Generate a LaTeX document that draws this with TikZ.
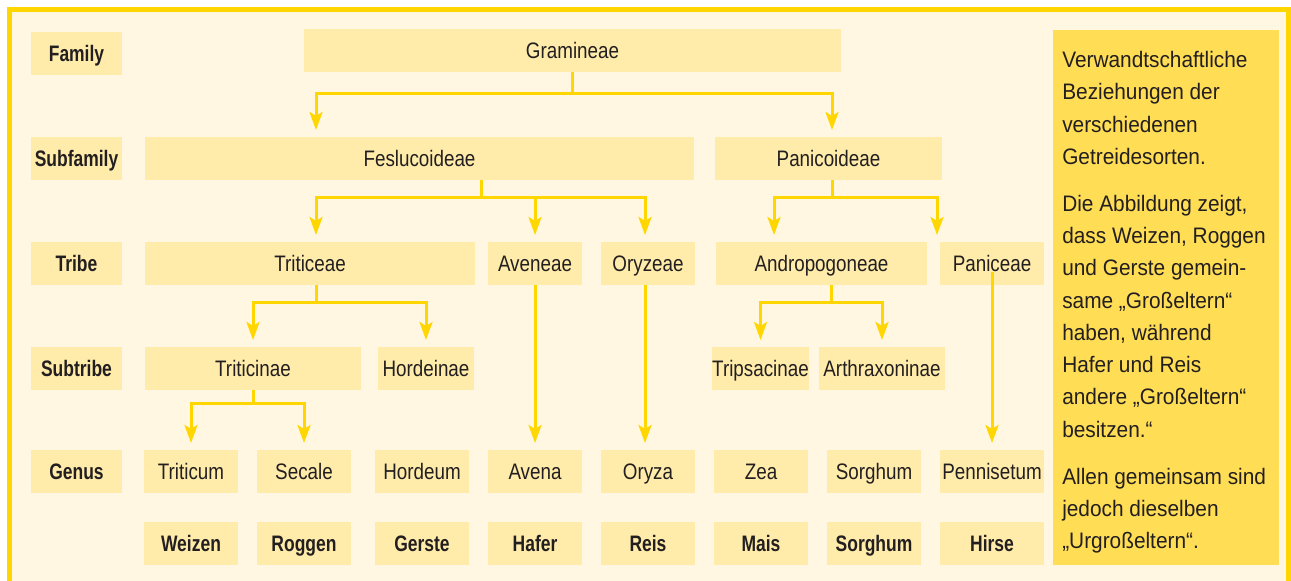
\documentclass[tikz,border=0pt]{standalone}
\usepackage{fontspec}
\setmainfont{Liberation Sans}
\newfontfamily\boxfont[FakeStretch=0.84]{Liberation Sans}
\newfontfamily\labfont[FakeStretch=0.78]{Liberation Sans}
\newfontfamily\panelfont[FakeStretch=0.93]{Liberation Sans}
\usepackage{xcolor}
\usepackage{tikz}
\usetikzlibrary{arrows.meta,positioning,calc}

\definecolor{framey}{RGB}{255,214,0}
\definecolor{paper}{RGB}{255,247,225}
\definecolor{boxy}{RGB}{255,236,170}
\definecolor{panely}{RGB}{255,221,85}
\definecolor{ink}{RGB}{35,31,32}
\newlength\pxu \setlength\pxu{0.75pt}

\begin{document}
\begin{tikzpicture}[
    x=0.75pt, y=-0.75pt,
    node distance=19\pxu,
    box/.style  = {fill=boxy, inner sep=0pt, outer sep=0pt, minimum height=43\pxu,
                   text height=13pt, text depth=1pt, text=ink,
                   font=\boxfont\fontsize{16.8}{20}\selectfont},
    gen/.style  = {box, minimum width=94\pxu},
    lab/.style  = {box, minimum width=91\pxu,
                   font=\labfont\bfseries\fontsize{16.8}{20}\selectfont},
    crop/.style = {gen, font=\labfont\bfseries\fontsize{16.8}{20}\selectfont},
    link/.style = {draw=framey, line width=2.25pt},
    arr/.style  = {link, -{Stealth[length=13.5pt, width=9.75pt, inset=3pt]},
                   shorten >=7\pxu},
]

\useasboundingbox (0,0) rectangle (1291,581);
\fill[white] (0,0) rectangle (1291,581);
\begin{scope}
  \clip (0,0) rectangle (1291,581);
  \draw[framey, line width=5\pxu, fill=paper] (9.5,10) rectangle (1288.5,600);
\end{scope}

% ============ rank labels ============
\node[lab] (lfam)  at (76.5,53.5)  {Family};
\node[lab] (lsub)  at (76.5,158.5) {Subfamily};
\node[lab] (ltri)  at (76.5,263.5) {Tribe};
\node[lab] (lsubt) at (76.5,368.5) {Subtribe};
\node[lab] (lgen)  at (76.5,471.5) {Genus};

% ============ family / subfamily ============
\node[box, minimum width=537\pxu] (gram)  at (572.5,50.5)  {Gramineae};
\node[box, minimum width=549\pxu] (fesl)  at (419.5,158.5) {Feslucoideae};
\node[box, minimum width=227\pxu] (panic) at (828.5,158.5) {Panicoideae};

% ============ tribes ============
\node[box, minimum width=330\pxu] (tritic) at (310,263.5)   {Triticeae};
\node[gen]                        (aven)   at (535,263.5)   {Aveneae};
\node[gen]                        (oryz)   at (648,263.5)   {Oryzeae};
\node[box, minimum width=211\pxu] (andro)  at (821.5,263.5) {Andropogoneae};
\node[box, minimum width=104\pxu] (panice) at (992,263.5)   {Paniceae};

% ============ subtribes ============
\node[box, minimum width=216\pxu] (trin)  at (253,368.5)   {Triticinae};
\node[box, minimum width=96\pxu]  (hord)  at (426,368.5)   {Hordeinae};
\node[box, minimum width=97\pxu]  (trips) at (760.5,368.5) {Tripsacinae};
\node[box, minimum width=126\pxu] (arthr) at (882,368.5)   {Arthraxoninae};

% ============ genera ============
\node[gen] (triticum) at (191,471.5) {Triticum};
\node[gen, right=of triticum]       (secale)  {Secale};
\node[gen, right=24\pxu of secale]  (hordeum) {Hordeum};
\node[gen, right=of hordeum]        (avena)   {Avena};
\node[gen, right=of avena]          (oryza)   {Oryza};
\node[gen, right=of oryza]          (zea)     {Zea};
\node[gen, right=of zea]            (sorghum) {Sorghum};
\node[gen, minimum width=104\pxu, right=of sorghum] (penn) {Pennisetum};

% ============ common names ============
\node[crop, below=29\pxu of triticum] (weizen) {Weizen};
\node[crop, below=29\pxu of secale]   (roggen) {Roggen};
\node[crop, below=29\pxu of hordeum]  (gerste) {Gerste};
\node[crop, below=29\pxu of avena]    (hafer)  {Hafer};
\node[crop, below=29\pxu of oryza]    (reis)   {Reis};
\node[crop, below=29\pxu of zea]      (mais)   {Mais};
\node[crop, below=29\pxu of sorghum]  (sorg)   {Sorghum};
\node[crop, minimum width=104\pxu, below=29\pxu of penn] (hirse) {Hirse};

% ============ note panel ============
\node[fill=panely, inner sep=0pt, minimum width=226\pxu, minimum height=535\pxu,
      anchor=north west] (panel) at (1053,30) {};
\node[anchor=north west, inner sep=0pt, align=left, text=ink,
      font=\panelfont\fontsize{16.8}{24.2}\selectfont] (note)
    at ([xshift=9\pxu, yshift=-21\pxu]panel.north west)
    {Verwandtschaftliche\\
     Beziehungen der\\
     verschiedenen\\
     Getreidesorten.\\[11pt]
     Die Abbildung zeigt,\\
     dass Weizen, Roggen\\
     und Gerste gemein-\\
     same „Großeltern“\\
     haben, während\\
     Hafer und Reis\\
     andere „Großeltern“\\
     besitzen.“\\[11pt]
     Allen gemeinsam sind\\
     jedoch dieselben\\
     „Urgroßeltern“.};

% ============ connectors ============
\draw[link] (gram.south) -- ++(0,22) coordinate (gj);
\draw[arr] (gj) -| ([xshift=-103.5\pxu]fesl.north);
\draw[arr] (gj) -| ([xshift=3.5\pxu]panic.north);

\draw[link] ([xshift=61.5\pxu]fesl.south) -- ++(0,17) coordinate (fj);
\draw[arr] (fj) -| ([xshift=6\pxu]tritic.north);
\draw[arr] (fj) -| (aven.north);
\draw[arr] (fj) -| ([xshift=-3\pxu]oryz.north);

\draw[link] ([xshift=3.5\pxu]panic.south) -- ++(0,17) coordinate (pj);
\draw[arr] (pj) -| ([xshift=-47.5\pxu]andro.north);
\draw[arr] (pj) -| ([xshift=-55\pxu]panice.north);

\draw[link] ([xshift=6\pxu]tritic.south) -- ++(0,17) coordinate (tj);
\draw[arr] (tj) -| (trin.north);
\draw[arr] (tj) -| (hord.north);

\draw[link] ([xshift=9.5\pxu]andro.south) -- ++(0,17) coordinate (aj);
\draw[arr] (aj) -| (trips.north);
\draw[arr] (aj) -| (arthr.north);

\draw[link] (trin.south) -- ++(0,13) coordinate (nj);
\draw[arr] (nj) -| (triticum.north);
\draw[arr] (nj) -| (secale.north);

\draw[arr] (aven.south) -- (avena.north);
\draw[arr] ([xshift=-3\pxu]oryz.south) -- ([xshift=-3\pxu]oryza.north);
\draw[arr] ([yshift=13\pxu]panice.south) -- (penn.north);

\end{tikzpicture}
\end{document}
